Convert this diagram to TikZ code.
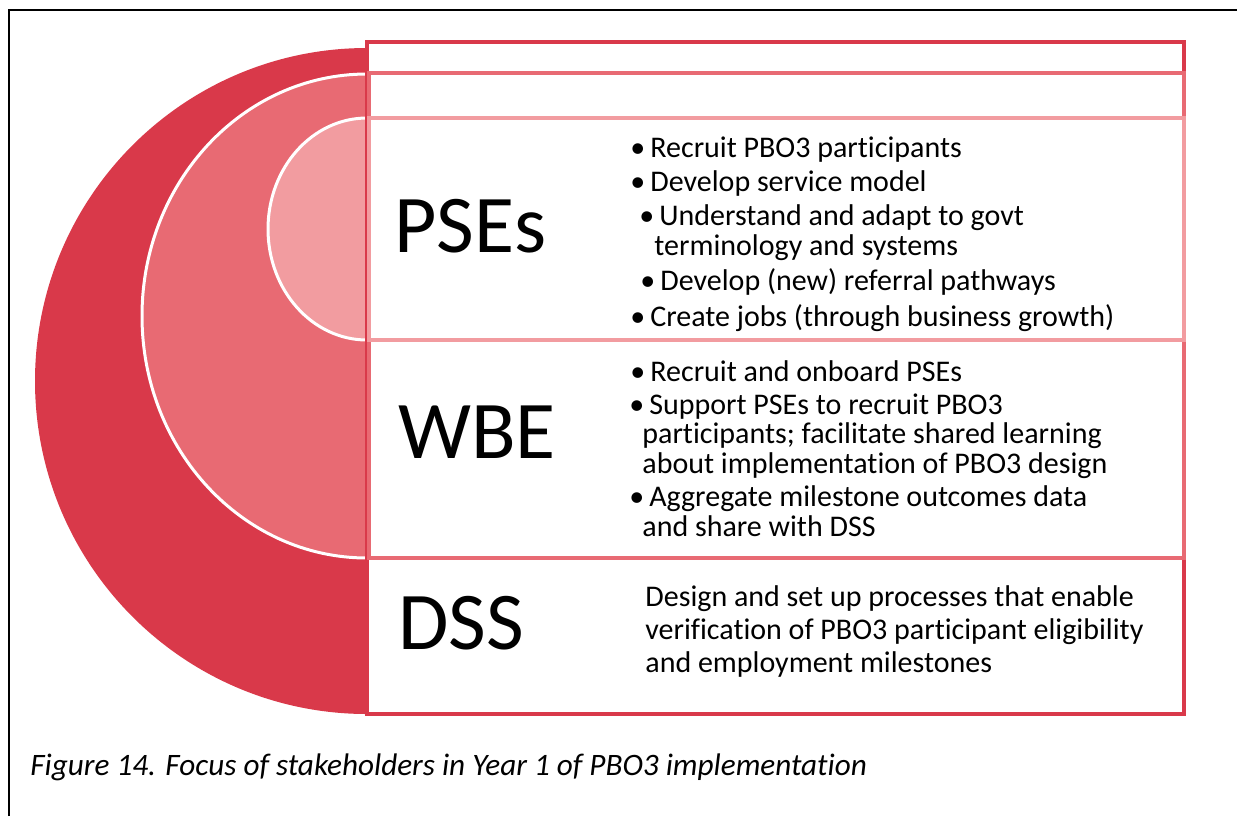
\documentclass[tikz,border=0pt]{standalone}
\usepackage{fontspec}
\setmainfont{Carlito}[Ligatures={NoCommon}]
\usetikzlibrary{positioning}

\definecolor{ringDark}{RGB}{217,57,74}
\definecolor{ringMid}{RGB}{232,106,115}
\definecolor{ringLight}{RGB}{242,156,160}

\tikzset{
    band/.style = {line width=2pt, fill=white},
    bigname/.style = {anchor=base west, inner sep=0pt, font=\fontsize{41}{42}\selectfont},
    % multi-line nodes sit on the baseline of their last line
    focus/.style = {anchor=base west, inner sep=0pt, align=left, font=\fontsize{15}{14.6}\selectfont}
}

\begin{document}
\begin{tikzpicture}[x=0.5pt,y=-0.5pt]
    \useasboundingbox (0,0) rectangle (1237,816);

    % Frame
    \draw[line width=1pt] (9,816) -- (9,10) -- (1237,10);

    % Rings
    \fill[ringDark] (367,381) ellipse [x radius=332, y radius=333];
    \filldraw[fill=ringMid, draw=white, line width=1.5pt] (367,316) ellipse [x radius=225, y radius=242];
    \filldraw[fill=ringLight, draw=white, line width=1.5pt] (367,229) ellipse [x radius=99, y radius=111];

    % Bands
    \draw[band, draw=ringDark] (367,42) rectangle (1184,714);
    \draw[band, draw=ringMid] (369,73) rectangle (1184,558);
    \draw[band, draw=ringLight] (369,118) rectangle (1184,340);

    % Stakeholders
    \node[bigname] (pse) at (394,252) {PSEs};
    \node[bigname] (wbe) at (398,458) {WBE};
    \node[bigname] (dss) at (398,649) {DSS};

    % PSE focus
    \node[focus] (pse1) at (630,157) {\textbullet\,Recruit PBO3 participants};
    \node[focus] (pse2) at (630,191) {\textbullet\,Develop service model};
    \node[focus] (pse3) at (654,255)
        {\hspace*{-7.5pt}\textbullet\,Understand and adapt to govt\\terminology and systems};
    \node[focus] (pse4) at (640,290) {\textbullet\,Develop (new) referral pathways};
    \node[focus] (pse5) at (630,326) {\textbullet\,Create jobs (through business growth)};

    % WBE focus
    \node[focus] (wbe1) at (630,381) {\textbullet\,Recruit and onboard PSEs};
    \node[focus] (wbe2) at (642,473)
        {\hspace*{-6.5pt}\textbullet\,Support PSEs to recruit PBO3\\participants; facilitate shared learning\\about implementation of PBO3 design};
    \node[focus] (wbe3) at (642,536)
        {\hspace*{-6.5pt}\textbullet\,Aggregate milestone outcomes data\\and share with DSS};

    % DSS focus
    \node[focus, font=\fontsize{15}{16.5}\selectfont] (dss1) at (645,672)
        {Design and set up processes that enable\\verification of PBO3 participant eligibility\\and employment milestones};

    % Caption
    \node[focus, font=\fontsize{15.6}{18}\selectfont\itshape] (cap) at (30,775)
        {Figure 14. Focus of stakeholders in Year 1 of PBO3 implementation};

\end{tikzpicture}
\end{document}
